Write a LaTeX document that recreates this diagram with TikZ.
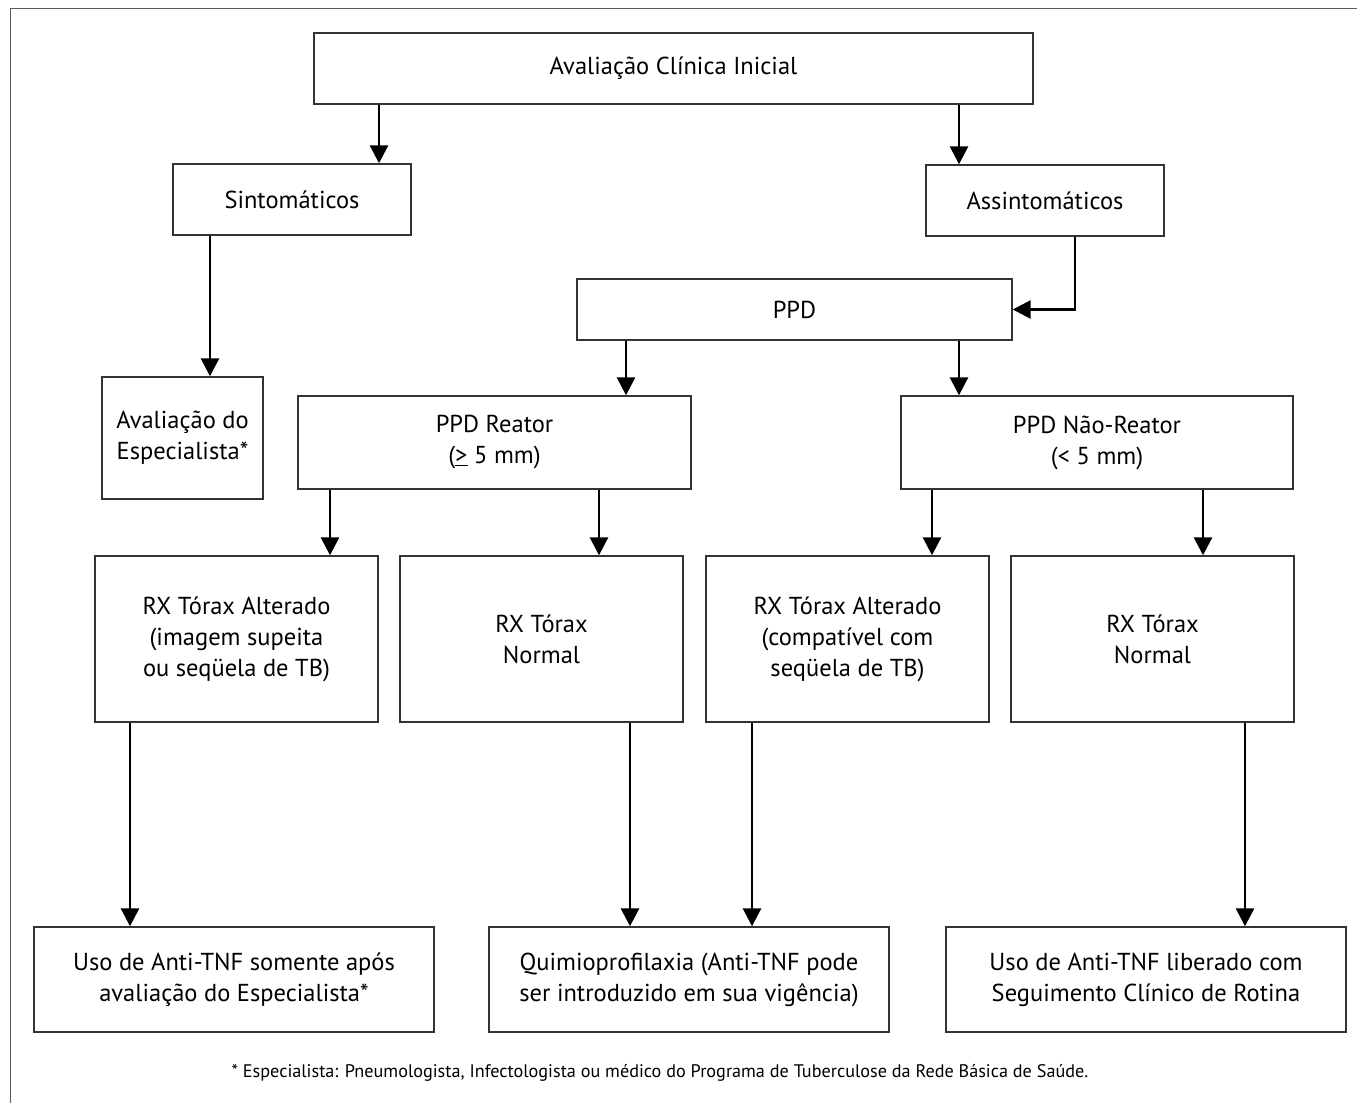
\documentclass[tikz,border=0pt]{standalone}
\usepackage{fontspec}
\setmainfont{PT Sans}
\usetikzlibrary{
  positioning,
  arrows.meta
}
\tikzstyle{arrow}     = [line width=2.8pt,-{Triangle[length=18pt,width=18pt]}]

\begin{document}
\begin{tikzpicture}[x=1pt,y=-1pt,
boxnode/.style={rectangle, draw=black!80, line width=1.4pt, align=center, inner sep=0pt, font=\fontsize{24.5}{31}\selectfont},
notenode/.style={font=\fontsize{18.2}{20}\selectfont},
]
\useasboundingbox (0,0) rectangle (1357,1103);
%Frame
\draw[line width=1.5pt, black!65] (10.5,1103) -- (10.5,8.5) -- (1357,8.5);

%Nodes
\node[boxnode, minimum width=719pt, minimum height=71pt]  (init)  at (673.5,68.5)  {Avaliação Clínica Inicial};
\node[boxnode, minimum width=238pt, minimum height=71pt]  (sint)  at (292,199.5)   {Sintomáticos};
\node[boxnode, minimum width=238pt, minimum height=71pt]  (asin)  at (1045,200.5)  {Assintomáticos};
\node[boxnode, minimum width=435pt, minimum height=61pt]  (ppd)   at (794.5,309.5) {PPD};
\node[boxnode, minimum width=161pt, minimum height=122pt] (espec) at (182.5,438)   {Avaliação do\\Especialista*};
\node[boxnode, minimum width=393pt, minimum height=93pt]  (reat)  at (494.5,442.5) {PPD Reator\\(\underline{>} 5 mm)};
\node[boxnode, minimum width=392pt, minimum height=93pt]  (nreat) at (1097,442.5)  {PPD Não-Reator\\(< 5 mm)};
\node[boxnode, minimum width=283pt, minimum height=166pt] (rxa)   at (236.5,639)   {RX Tórax Alterado\\(imagem supeita\\ou seqüela de TB)};
\node[boxnode, minimum width=283pt, minimum height=166pt] (rxb)   at (541.5,639)   {RX Tórax\\Normal};
\node[boxnode, minimum width=283pt, minimum height=166pt] (rxc)   at (847.5,639)   {RX Tórax Alterado\\(compatível com\\seqüela de TB)};
\node[boxnode, minimum width=283pt, minimum height=166pt] (rxd)   at (1152.5,639)  {RX Tórax\\Normal};
\node[boxnode, minimum width=400pt, minimum height=105pt] (usoa)  at (234,979.5)   {Uso de Anti-TNF somente após\\avaliação do Especialista*};
\node[boxnode, minimum width=400pt, minimum height=105pt] (quim)  at (689,979.5)   {Quimioprofilaxia (Anti-TNF pode\\ser introduzido em sua vigência)};
\node[boxnode, minimum width=400pt, minimum height=105pt] (usob)  at (1146,979.5)  {Uso de Anti-TNF liberado com\\Seguimento Clínico de Rotina};
\node[notenode] (note) at (660,1073) {* Especialista: Pneumologista, Infectologista ou médico do Programa de Tuberculose da Rede Básica de Saúde.};

%Lines
\draw[arrow] (379,0 |- init.south) -- (379,0 |- sint.north);
\draw[arrow] (959,0 |- init.south) -- (959,0 |- asin.north);
\draw[arrow] (210,0 |- sint.south) -- (210,0 |- espec.north);
\draw[arrow] (1075,0 |- asin.south) |- (ppd.east);
\draw[arrow] (626,0 |- ppd.south) -- (626,0 |- reat.north);
\draw[arrow] (959,0 |- ppd.south) -- (959,0 |- nreat.north);
\draw[arrow] (330,0 |- reat.south) -- (330,0 |- rxa.north);
\draw[arrow] (599,0 |- reat.south) -- (599,0 |- rxb.north);
\draw[arrow] (932,0 |- nreat.south) -- (932,0 |- rxc.north);
\draw[arrow] (1203,0 |- nreat.south) -- (1203,0 |- rxd.north);
\draw[arrow] (130,0 |- rxa.south) -- (130,0 |- usoa.north);
\draw[arrow] (630,0 |- rxb.south) -- (630,0 |- quim.north);
\draw[arrow] (752,0 |- rxc.south) -- (752,0 |- quim.north);
\draw[arrow] (1245,0 |- rxd.south) -- (1245,0 |- usob.north);
\end{tikzpicture}
\end{document}
